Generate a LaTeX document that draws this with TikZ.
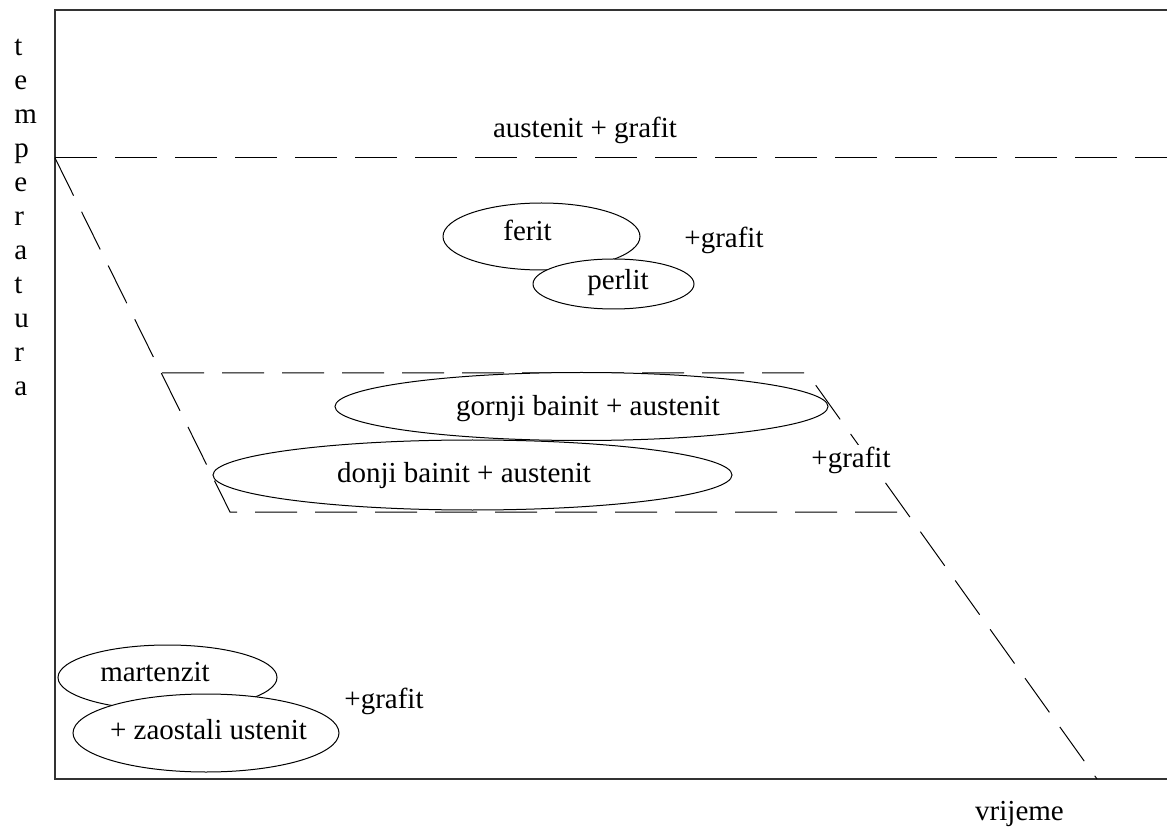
\documentclass[tikz,border=0pt]{standalone}
\usepackage{fontspec}
\setmainfont{Liberation Serif}
\usetikzlibrary{matrix}

\begin{document}
\begin{tikzpicture}[x=0.5pt,y=-0.5pt,
every node/.style={font=\fontsize{14.5}{17}\selectfont},
frame/.style={line width=1pt, black!80},
limit/.style={line width=0.5pt, dash pattern=on 21pt off 9pt},
phase/.style={draw, fill=white, line width=0.5pt}
]
\useasboundingbox (0,0) rectangle (1167,828);

% okvir
\coordinate (tl) at (55,10);
\coordinate (tr) at (1167,10);
\coordinate (bl) at (55,779);
\coordinate (br) at (1167,779);
\draw[frame] (tr) -- (tl) -- (bl) -- (br);

% granice podrucja
\coordinate (a1) at (55,158);
\coordinate (a2) at (1167,158);
\coordinate (b1) at (162,373);
\coordinate (b2) at (807,373);
\coordinate (b3) at (1097,779);
\coordinate (c1) at (230,512);
\coordinate (c2) at (906,512);
\draw[limit] (a1) -- (a2);
\draw[limit] (a1) -- (c1) -- (c2);
\draw[limit] (b1) -- (b2) -- (b3);

% faze
\draw[phase] (541.5,236.5) ellipse [x radius=98.5, y radius=33.5];
\draw[phase] (613.5,284) ellipse [x radius=80.5, y radius=25];
\draw[phase] (581.5,406.5) ellipse [x radius=246.5, y radius=34];
\draw[phase] (472.5,475) ellipse [x radius=259.5, y radius=35];
\draw[phase] (167.5,677.5) ellipse [x radius=109.5, y radius=32.5];
\draw[phase] (206,733) ellipse [x radius=133, y radius=39];

\node (aus) at (585,130) {austenit + grafit};
\node (fer) at (527.5,230) {ferit};
\node (per) at (618,283) {perlit};
\node (gr1) at (724,240) {+grafit};
\node (gor) at (588,409) {gornji bainit + austenit};
\node (don) at (464,476) {donji bainit + austenit};
\node[fill=white, inner sep=1pt] (gr2) at (851,460) {+grafit};
\node (mar) at (155,672) {martenzit};
\node (zao) at (208.5,730) {+ zaostali ustenit};
\node (gr3) at (384,701) {+grafit};
\node (vri) at (1019.5,814) {vrijeme};

% os temperature
\matrix (temp) [matrix of nodes, anchor=north west, inner sep=0pt, row sep=4pt,
nodes={anchor=base west, inner sep=0pt, text height=10pt, text depth=3pt}
] at (14,35) {
	t\\ e\\ m\\ p\\ e\\ r\\ a\\ t\\ u\\ r\\ a\\
};
\end{tikzpicture}
\end{document}
